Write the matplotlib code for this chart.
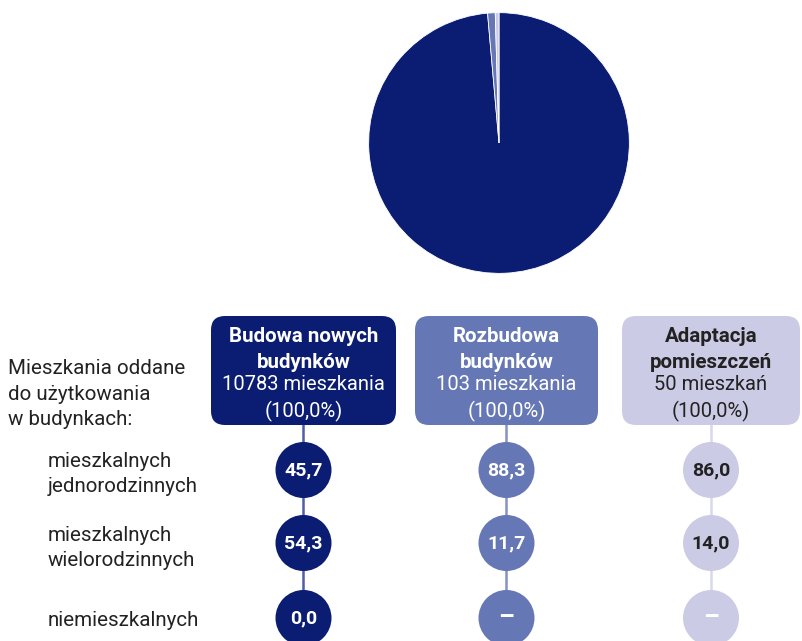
import matplotlib.pyplot as plt
from matplotlib.patches import FancyBboxPatch, Circle

plt.rcParams['font.family'] = ['Roboto', 'DejaVu Sans']

# data
mieszkania = [10783, 103, 50]
kolumny = ["Budowa nowych\nbudynków", "Rozbudowa\nbudynków", "Adaptacja\npomieszczeń"]
podpisy = ["10783 mieszkania\n(100,0%)", "103 mieszkania\n(100,0%)", "50 mieszkań\n(100,0%)"]
wiersze = ["mieszkalnych\njednorodzinnych", "mieszkalnych\nwielorodzinnych", "niemieszkalnych"]
wartosci = [["45,7", "54,3", "0,0"],
            ["88,3", "11,7", "–"],
            ["86,0", "14,0", "–"]]

kolory = ["#0b1d72", "#6677b5", "#cbcbe5"]
linie = ["#4f5fa5", "#8592c6", "#d8d8ec"]
tekst = ["white", "white", "#222222"]

fig = plt.figure(figsize=(8.03, 6.41), dpi=100)

# pie
axp = fig.add_axes([368/803, 1 - 274/641, 262/803, 262/641])
axp.pie(mieszkania, colors=kolory, startangle=90, counterclock=False,
        wedgeprops={"edgecolor": "white", "linewidth": 0.6})
axp.set_xlim(-1.005, 1.005)
axp.set_ylim(-1.005, 1.005)
axp.set_aspect("equal")

# table part, pixel coordinates
ax = fig.add_axes([0, 0, 1, 1])
ax.set_xlim(0, 803)
ax.set_ylim(641, 0)
ax.axis("off")

box_x = [211, 415, 622]
box_w = [185, 183, 178]
box_top, box_bot = 316, 425
row_y = [470, 543, 618]
r = 28
ls = 1.42

for i in range(3):
    cx = box_x[i] + box_w[i] / 2
    ax.plot([cx, cx], [box_bot, row_y[-1]], color=linie[i], lw=1.8, zorder=1)
    ax.add_patch(FancyBboxPatch((box_x[i], box_top), box_w[i], box_bot - box_top,
                                boxstyle="round,pad=0,rounding_size=14",
                                fc=kolory[i], ec="none", zorder=2))
    ax.text(cx, 349.5, kolumny[i], ha="center", va="center", fontsize=14.8,
            fontweight="bold", color=tekst[i], linespacing=ls, zorder=3)
    ax.text(cx, 398.5, podpisy[i], ha="center", va="center", fontsize=14.5,
            color=tekst[i], linespacing=ls, zorder=3)
    for j, y in enumerate(row_y):
        v = wartosci[i][j]
        if v == "–":
            ax.text(cx, y, v, ha="center", va="center", fontsize=18,
                    fontweight="bold", color="white", zorder=3)
        else:
            ax.text(cx, y, v, ha="center", va="center", fontsize=14,
                    fontweight="bold", color=tekst[i], zorder=3)
    for y in row_y:
        ax.add_patch(Circle((cx, y), r, fc=kolory[i], ec="none", zorder=2))

ax.text(8, 394, "Mieszkania oddane\ndo użytkowania\nw budynkach:", ha="left",
        va="center", fontsize=14.8, color="#222222", linespacing=ls)
sub_y = [474, 548, 620]
for j, y in enumerate(sub_y):
    ax.text(48, y, wiersze[j], ha="left", va="center", fontsize=14.8,
            color="#222222", linespacing=ls)

fig.savefig("out.png", dpi=100)
